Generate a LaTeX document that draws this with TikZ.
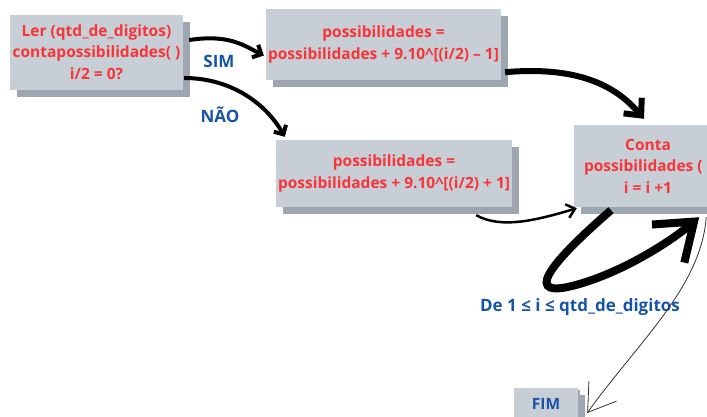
\documentclass[tikz,border=0pt]{standalone}
\usepackage{fontspec}
\setmainfont{Open Sans}
\usetikzlibrary{arrows.meta}
\usetikzlibrary{calc}
\usetikzlibrary{shadows}

\definecolor{boxfill}{RGB}{200,206,214}
\definecolor{boxshade}{RGB}{158,166,177}
\definecolor{txtred}{RGB}{247,52,56}
\definecolor{txtblue}{RGB}{22,84,170}

\tikzset{
  box/.style={rectangle, fill=boxfill, align=center, inner sep=2pt,
    font=\bfseries\fontsize{15.5}{21.5}\selectfont, text=txtred,
    drop shadow={shadow xshift=7pt, shadow yshift=-7pt, fill=boxshade, opacity=1}},
  lbl/.style={font=\bfseries\fontsize{17}{19}\selectfont, text=txtblue},
  thick arrow/.style={line width=4pt, ->, >={Straight Barb[length=7pt,width=14pt]}},
}

\begin{document}
\begin{tikzpicture}[x=1pt, y=-1pt]

  \clip (0,0) rectangle (707,416);

  % Define nodes
  \node[box, minimum width=173pt, minimum height=75pt] (ler) at (96.5,52)
    {Ler (qtd\_de\_digitos)\\contapossibilidades( )\\i/2 = 0?};
  \node[box, minimum width=227pt, minimum height=71pt] (pmenos) at (383.5,44.5)
    {possibilidades =\\possibilidades + 9.10\^{}[(i/2) -- 1]};
  \node[box, minimum width=236pt, minimum height=67pt] (pmais) at (394,173.5)
    {possibilidades =\\possibilidades + 9.10\^{}[(i/2) + 1]};
  \node[box, minimum width=148pt, minimum height=82pt] (conta) at (648,166)
    {Conta\\possibilidades ( )\\i = i +1};
  \node[box, text=txtblue, minimum width=64pt, minimum height=32pt,
    drop shadow={shadow xshift=2pt, shadow yshift=-2pt, fill=boxshade, opacity=1}] (fim) at (546,404) {FIM};

  \node[lbl] (sim) at (219,61) {SIM};
  \node[lbl] (nao) at (220,115) {NÃO};
  \node[lbl] (de) at (580,307) {De 1 ≤ i ≤ qtd\_de\_digitos};

  % Connect the nodes
  \draw[thick arrow] ($(ler.east)+(6,-12)$) .. controls +(40,-6) and +(-20,-10) .. ($(pmenos.west)+(-2,11)$);
  \draw[thick arrow] ($(ler.east)+(1,26)$) .. controls +(45,0) and +(-20,-35) .. ($(pmais.north west)+(9,-3)$);
  \draw[line width=6pt, ->, >={Straight Barb[length=13pt,width=24pt]}]
    ($(pmenos.south east)+(4,-8)$) .. controls +(70,-6) and +(-30,-35) .. ($(conta.north)+(-4,-6)$);
  \draw[line width=2.5pt, ->, >={Straight Barb[length=8pt,width=14pt]}]
    ($(pmais.south east)+(-36,8)$) .. controls +(25,14) and +(-40,12) .. ($(conta.south west)+(3,1)$);
  \draw[line width=8pt, ->, >={Straight Barb[length=34pt,width=50pt]}]
    ($(conta.south)+(-37,3)$) .. controls (565,250) and (515,300) .. (572,286)
    .. controls (620,274) and (670,242) .. ($(conta.south east)+(-23,10)$);
  \draw[line width=0.8pt, black!80, ->, >={Straight Barb[length=26pt,width=34pt]}]
    ($(conta.south east)+(-16,10)$) .. controls +(-5,70) and +(50,-70) .. ($(fim.east)+(9,9)$);

\end{tikzpicture}
\end{document}
